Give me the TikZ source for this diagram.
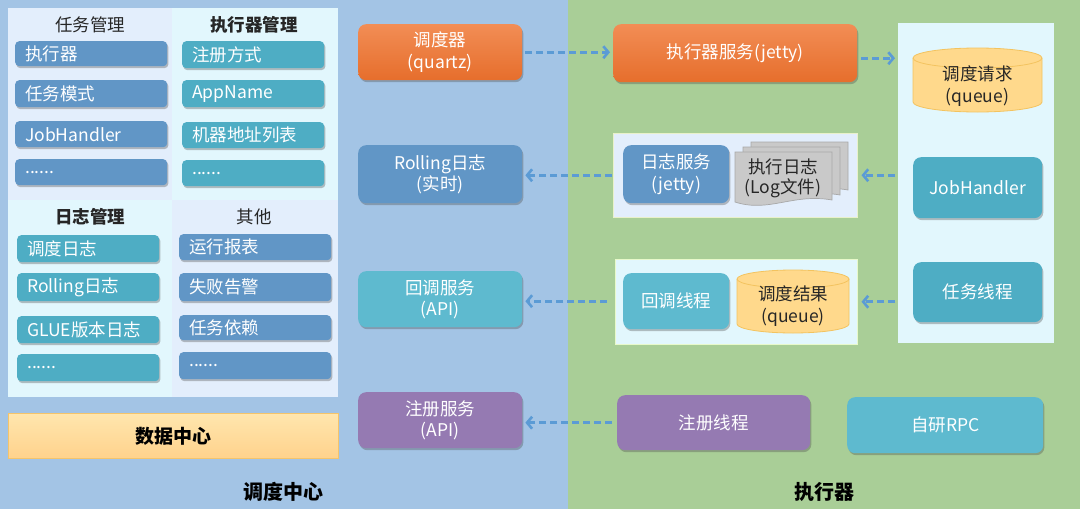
\documentclass[tikz,border=0pt]{standalone}
\usepackage{fontspec}
\setmainfont{Noto Sans CJK SC}
\usetikzlibrary{shadows,arrows.meta,calc}
\definecolor{bgblue}{HTML}{A3C4E5}
\definecolor{bggreen}{HTML}{A9CE97}
\definecolor{qblue}{HTML}{E3EEFC}
\definecolor{qcyan}{HTML}{E2F7FD}
\definecolor{cblue}{HTML}{6196C6}
\definecolor{cteal}{HTML}{4EADC4}
\definecolor{clteal}{HTML}{5EBACF}
\definecolor{cpurple}{HTML}{957AB2}
\definecolor{corangeT}{HTML}{F28D55}
\definecolor{corangeB}{HTML}{E66E2C}
\definecolor{cyl}{HTML}{FFD98C}
\definecolor{cylb}{HTML}{F3C35F}
\definecolor{docf}{HTML}{C9C9C9}
\definecolor{docb}{HTML}{A8A8A8}
\definecolor{arrc}{HTML}{5B9BD5}
\definecolor{dataT}{HTML}{FFE6AE}
\definecolor{dataB}{HTML}{FFD28C}
\definecolor{datab}{HTML}{F5C46A}
\definecolor{txt}{HTML}{262626}
\tikzset{
  shd/.style={drop shadow={shadow xshift=1.2pt, shadow yshift=-2pt, opacity=0.35, fill=black!70}},
  item/.style={shd, rounded corners=4pt, anchor=north west, inner xsep=10pt, inner ysep=0pt,
    align=left, text=white, font=\fontsize{17.5}{20}\selectfont},
  big/.style={shd, rounded corners=8pt, anchor=north west, inner sep=0pt, align=center,
    text=white, font=\fontsize{17.5}{21.5}\selectfont},
  orangefill/.style={top color=corangeT, bottom color=corangeB},
  panel/.style={anchor=north west, inner sep=0pt},
  head/.style={text=txt, font=\fontsize{17.5}{20}\selectfont},
  cyltext/.style={text=txt, align=center, font=\fontsize{17.5}{22}\selectfont},
  cylpath/.style={fill=cyl, draw=cylb, line width=0.8pt},
  docpath/.style={fill=docf, draw=docb, line width=0.7pt},
  arr/.style={draw=arrc, line width=3pt, dash pattern=on 7pt off 4pt,
    -{Straight Barb[length=5pt,width=12pt,line width=2.6pt]}},
}
\begin{document}
\begin{tikzpicture}[x=1pt,y=-1pt]
\useasboundingbox (0,0) rectangle (1080,509);
% backgrounds
\fill[bgblue] (0,0) rectangle (568,509);
\fill[bggreen] (568,0) rectangle (1080,509);
% left quadrants
\fill[qblue] (8,8) rectangle (172,200);
\fill[qcyan] (172,8) rectangle (338,200);
\fill[qcyan] (8,200) rectangle (172,397);
\fill[qblue] (172,200) rectangle (338,397);
\node[head] (h1) at (90,25) {任务管理};
\node[head, font=\fontsize{17.5}{20}\selectfont\bfseries] (h2) at (254,25) {执行器管理};
\node[head, font=\fontsize{17.5}{20}\selectfont\bfseries] (h3) at (90,217) {日志管理};
\node[head] (h4) at (254,217) {其他};
% top-left items
\node[item, fill=cblue, text width=132pt, minimum height=25pt] (a1) at (15,41) {执行器};
\node[item, fill=cblue, text width=132pt, minimum height=27pt] (a2) at (15,80) {任务模式};
\node[item, fill=cblue, text width=132pt, minimum height=26pt] (a3) at (15,121) {JobHandler};
\node[item, fill=cblue, text width=132pt, minimum height=26pt] (a4) at (15,159) {......};
% top-right items
\node[item, fill=cteal, text width=122pt, minimum height=27pt] (b1) at (182,41) {注册方式};
\node[item, fill=cteal, text width=122pt, minimum height=27pt] (b2) at (182,80) {AppName};
\node[item, fill=cteal, text width=122pt, minimum height=26pt] (b3) at (182,122) {机器地址列表};
\node[item, fill=cteal, text width=122pt, minimum height=26pt] (b4) at (182,160) {......};
% bottom-left items
\node[item, fill=cteal, text width=122pt, minimum height=27pt] (c1) at (17,235) {调度日志};
\node[item, fill=cteal, text width=122pt, minimum height=28pt] (c2) at (17,273) {Rolling日志};
\node[item, fill=cteal, text width=122pt, minimum height=27pt] (c3) at (17,316) {GLUE版本日志};
\node[item, fill=cteal, text width=122pt, minimum height=27pt] (c4) at (17,354) {......};
% bottom-right items
\node[item, fill=cblue, text width=132pt, minimum height=26pt] (d1) at (179,234) {运行报表};
\node[item, fill=cblue, text width=132pt, minimum height=28pt] (d2) at (179,273) {失败告警};
\node[item, fill=cblue, text width=132pt, minimum height=25pt] (d3) at (179,315) {任务依赖};
\node[item, fill=cblue, text width=132pt, minimum height=27pt] (d4) at (179,352) {......};
% data center
\node[panel, top color=dataT, bottom color=dataB, draw=datab, line width=0.8pt,
  minimum width=330pt, minimum height=45pt, font=\fontsize{19}{21}\selectfont\bfseries, text=black] (data) at (8,413) {数据中心};
\node[font=\fontsize{20}{22}\selectfont\bfseries, text=black] (lbl1) at (283,492) {调度中心};
\node[font=\fontsize{20}{22}\selectfont\bfseries, text=black] (lbl2) at (824,492) {执行器};
% middle column
\node[big, orangefill, minimum width=164pt, minimum height=56pt] (sched) at (358,24) {调度器\\(quartz)};
\node[big, fill=cblue, minimum width=164pt, minimum height=58pt] (rolling) at (358,145) {Rolling日志\\(实时)};
\node[big, fill=clteal, minimum width=164pt, minimum height=56pt] (cbsvc) at (358,271) {回调服务\\(API)};
\node[big, fill=cpurple, minimum width=164pt, minimum height=56pt] (regsvc) at (358,392) {注册服务\\(API)};
% executor side
\node[big, orangefill, minimum width=244pt, minimum height=58pt] (execsvc) at (613,24) {执行器服务(jetty)};
\node[panel, fill=qblue, draw=qblue!80!yellow, line width=0.5pt, minimum width=244pt, minimum height=84pt] (logbox) at (613,133) {};
\node[big, fill=cblue, minimum width=106pt, minimum height=58pt] (logsvc) at (623,145) {日志服务\\(jetty)};
\path[docpath] (751,142) -- (848,142) -- (848,190) .. controls (809,183) and (785,203) .. (751,192) -- cycle;
\path[docpath] (743,147) -- (840,147) -- (840,195) .. controls (801,188) and (777,208) .. (743,197) -- cycle;
\path[docpath] (735,152) -- (832,152) -- (832,200) .. controls (793,193) and (769,213) .. (735,202) -- cycle;
\node[cyltext, font=\fontsize{17.5}{20}\selectfont] (logfile) at (783,178) {执行日志\\(Log文件)};
\node[panel, fill=qcyan, draw=qcyan!80!yellow, line width=0.5pt, minimum width=242pt, minimum height=85pt] (cbbox) at (615,259) {};
\node[big, fill=clteal, minimum width=106pt, minimum height=56pt] (cbthread) at (623,273) {回调线程};
\path[cylpath] (737,279) -- (737,324) arc[start angle=180, end angle=360, x radius=56pt, y radius=9pt]
  -- (849,279) arc[start angle=0, end angle=180, x radius=56pt, y radius=9pt] -- cycle;
\draw[cylb, line width=0.8pt] (737,279) arc[start angle=180, end angle=360, x radius=56pt, y radius=9pt];
\node[cyltext] (result) at (793,306) {调度结果\\(queue)};
\node[big, fill=cpurple, minimum width=193pt, minimum height=55pt] (regthread) at (617,395) {注册线程};
\node[big, fill=clteal, minimum width=196pt, minimum height=56pt] (rpc) at (847,397) {自研RPC};
% right panel
\node[panel, fill=qcyan, minimum width=156pt, minimum height=320pt] (rpanel) at (898,23) {};
\path[cylpath] (913,58) -- (913,102) arc[start angle=180, end angle=360, x radius=64.5pt, y radius=10pt]
  -- (1042,58) arc[start angle=0, end angle=180, x radius=64.5pt, y radius=10pt] -- cycle;
\draw[cylb, line width=0.8pt] (913,58) arc[start angle=180, end angle=360, x radius=64.5pt, y radius=10pt];
\node[cyltext] (req) at (977.5,86) {调度请求\\(queue)};
\node[big, fill=cteal, minimum width=129pt, minimum height=61pt] (jobh) at (913,157) {JobHandler};
\node[big, fill=cteal, minimum width=129pt, minimum height=60pt] (taskth) at (913,262) {任务线程};
% arrows
\draw[arr, shorten <=3pt, shorten >=3pt] (sched.east) -- (sched.east -| execsvc.west);
\draw[arr, shorten <=4pt, shorten >=3pt] ([yshift=-5pt]execsvc.east) -- ([yshift=-5pt]execsvc.east -| rpanel.west);
\draw[arr, shorten <=3pt, shorten >=4pt] (logbox.east -| rpanel.west) -- (logbox.east);
\draw[arr, shorten <=1pt, shorten >=3pt] (logbox.west) -- (logbox.west -| rolling.east);
\draw[arr, shorten <=3pt, shorten >=4pt] (cbbox.east -| rpanel.west) -- (cbbox.east);
\draw[arr, shorten <=8pt, shorten >=3pt] (cbthread.west -| cbbox.west) -- (cbthread.west -| cbsvc.east);
\draw[arr, shorten <=5pt, shorten >=3pt] (regthread.west) -- (regthread.west -| regsvc.east);
\end{tikzpicture}
\end{document}
